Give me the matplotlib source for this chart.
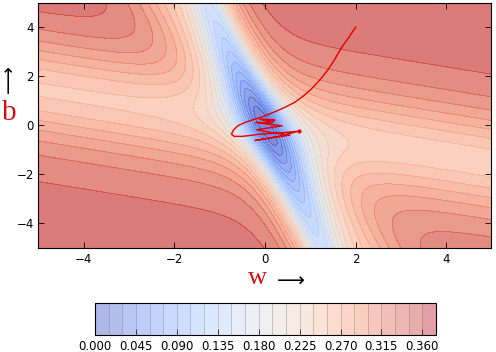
import numpy as np
import matplotlib
matplotlib.use('Agg')
import matplotlib.pyplot as plt

# toy data set of the sigmoid neuron (x, target y, weight of each point in the loss)
data_x = [4.06, 0.30, 2.41]
data_y = [0.50, 0.49, 0.51]
data_c = [0.70, 0.42, 0.30]

# parameter ranges and contour levels
w_range = [-5, 5]
b_range = [-5, 5]
levels = np.arange(0, 0.3751, 0.015)
cbar_ticks = np.arange(0, 0.3601, 0.045)
axis_ticks = [-4, -2, 0, 2, 4]

# gradient-descent (momentum) path
path_w = [2.00, 1.85, 1.69, 1.55, 1.40, 1.22, 1.03, 0.85, 0.66, 0.47, 0.29, 0.11, -0.07,
          -0.26, -0.44, -0.60, -0.70, -0.74, -0.68, -0.50, -0.10, 0.40, 0.74, 0.30, -0.22,
          0.10, 0.55, 0.15, -0.18, 0.10, 0.38, 0.05, -0.20, 0.15, 0.22, -0.12, 0.08, 0.18,
          -0.05, 0.06]
path_b = [4.00, 3.58, 3.17, 2.72, 2.29, 1.87, 1.49, 1.20, 0.94, 0.76, 0.61, 0.47, 0.34,
          0.23, 0.12, -0.02, -0.20, -0.36, -0.45, -0.45, -0.36, -0.30, -0.24, -0.45, -0.62,
          -0.52, -0.40, -0.30, -0.18, -0.10, -0.02, 0.05, 0.12, 0.10, 0.22, 0.25, 0.16, 0.20,
          0.24, 0.15]
marker_w = [0.74]
marker_b = [-0.24]

def sigmoid(z):
    return 1.0 / (1.0 + np.exp(-z))

ww, bb = np.meshgrid(np.linspace(w_range[0], w_range[1], 300),
                     np.linspace(b_range[0], b_range[1], 300))
Z = np.zeros_like(ww)
for x, y, c in zip(data_x, data_y, data_c):
    Z += c * (sigmoid(ww * x + bb) - y) ** 2

fig = plt.figure(figsize=(4.96, 3.52), dpi=100)
ax = fig.add_axes([0.0776, 0.2955, 0.9133, 0.697])
cax = fig.add_axes([0.1915, 0.0483, 0.6875, 0.0909])

cmap = 'coolwarm'
cf = ax.contourf(ww, bb, Z, levels=levels, cmap=cmap, alpha=0.42)
ax.contourf(ww, bb, Z, levels=levels, cmap=cmap, alpha=0.42)
ax.contour(ww, bb, Z, levels=levels, cmap=cmap, linewidths=0.4, alpha=0.4)

ax.plot(path_w, path_b, color='#e00000', lw=1.0)
ax.plot(marker_w, marker_b, 'o', color='#e00000', ms=2)

ax.set_xlim(w_range)
ax.set_ylim(b_range)
ax.set_xticks(axis_ticks)
ax.set_yticks(axis_ticks)
ax.tick_params(direction='in', top=True, right=True, labelsize=8.5, length=4, width=0.6)
for sp in ax.spines.values():
    sp.set_linewidth(0.8)

cb = fig.colorbar(cf, cax=cax, orientation='horizontal', drawedges=True, ticks=cbar_ticks)
cb.dividers.set_color('0.45')
cb.dividers.set_linewidth(0.5)
cb.dividers.set_alpha(0.5)
cb.ax.xaxis.set_major_formatter(matplotlib.ticker.FormatStrFormatter('%.3f'))
cb.ax.tick_params(direction='in', labelsize=8.5, length=4, width=0.6)
cb.outline.set_linewidth(0.8)

fig.text(257 / 496, 1 - 284 / 352, 'w', color='#d01010', fontsize=19,
         family='Liberation Serif', ha='center', va='baseline')
fig.text(289 / 496, 1 - 279 / 352, r'$\longrightarrow$', color='black', fontsize=14,
         ha='center', va='center')
fig.text(9 / 496, 1 - 113 / 352, 'b', color='#d01010', fontsize=21,
         family='Liberation Serif', ha='center', va='center')
fig.text(8 / 496, 1 - 82 / 352, r'$\longrightarrow$', color='black', fontsize=14,
         rotation=90, ha='center', va='center')

fig.savefig('out.png', dpi=100)
